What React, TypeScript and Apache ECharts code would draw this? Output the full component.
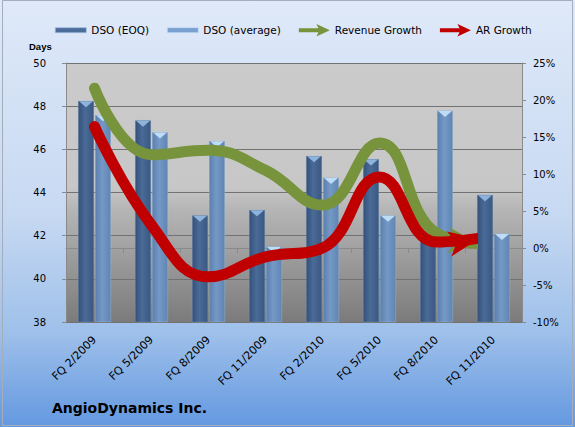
import React, { useEffect, useRef } from 'react';
import * as echarts from 'echarts';

// Fiscal quarters on the category axis
const quarters = ['FQ 2/2009', 'FQ 5/2009', 'FQ 8/2009', 'FQ 11/2009', 'FQ 2/2010', 'FQ 5/2010', 'FQ 8/2010', 'FQ 11/2010'];

// Days sales outstanding (left axis, days)
const dsoEoq = [48.25, 47.35, 42.95, 43.2, 45.7, 45.55, 42.2, 43.9];
const dsoAverage = [47.6, 46.8, 46.4, 41.5, 44.7, 42.95, 47.8, 42.1];

// Year-over-year growth (right axis, percent)
const revenueGrowth = [21.6, 12.6, 13.2, 10.5, 5.8, 14.2, 2.0, 0.5];
const arGrowth = [16.4, 3.1, -3.9, -1.2, 0.0, 9.6, 0.8, 1.6];

// Axis ranges
const daysRange = { min: 38, max: 50, step: 2 };
const pctRange = { min: -10, max: 25, step: 5 };

const FONT = "'DejaVu Sans', sans-serif";
const GREEN = '#77933c';
const RED = '#c00000';

const rectIcon = 'path://M0,0 H31 V5 H0 Z';
const arrowIcon = 'path://M0,4 L19,4 L17,0 L30,6 L17,12 L19,8 L0,8 Z';
const capShape = 'path://M0,0 L16,0 L8,6 Z';

// Line stroke fades out just before the arrowhead so the head covers the end
function strokeWithCut(color: string, cutX: number, width: number) {
  const t = cutX / width;
  return new echarts.graphic.LinearGradient(0, 0, width, 0, [
    { offset: 0, color },
    { offset: t, color },
    { offset: t + 0.0005, color: 'rgba(0,0,0,0)' },
    { offset: 1, color: 'rgba(0,0,0,0)' },
  ], true);
}

function withArrow(values: number[], angleDeg: number, len: number, wid: number) {
  const last = values.length - 1;
  const rad = (angleDeg * Math.PI) / 180;
  const tipX = (len / 2) * Math.cos(rad);
  const tipY = -(len / 2) * Math.sin(rad);
  return values.map((v, i) =>
    i === last
      ? {
          value: v,
          symbol: 'arrow',
          symbolSize: [wid, len],
          symbolRotate: angleDeg - 90,
          symbolOffset: [-tipX, -tipY],
        }
      : v
  );
}

export default function App() {
  const ref = useRef<HTMLDivElement>(null);

  useEffect(() => {
    if (!ref.current) return;
    const chart = echarts.init(ref.current, undefined, { renderer: 'svg' });
    const W = 575;

    const darkBar = new echarts.graphic.LinearGradient(0, 0, 1, 0, [
      { offset: 0, color: '#33507a' },
      { offset: 0.45, color: '#4a6b97' },
      { offset: 1, color: '#395781' },
    ]);
    const lightBar = new echarts.graphic.LinearGradient(0, 0, 1, 0, [
      { offset: 0, color: '#5b7fad' },
      { offset: 0.45, color: '#7499c7' },
      { offset: 1, color: '#6185b3' },
    ]);

    chart.setOption({
      animation: false,
      textStyle: { fontFamily: FONT },
      graphic: [
        {
          type: 'rect',
          z: 100,
          shape: { x: 2.5, y: 0.5, width: 570, height: 425 },
          style: { fill: 'none', stroke: '#a3adbb', lineWidth: 1 },
        },
        {
          type: 'text',
          left: 29,
          top: 41,
          style: { text: 'Days', font: "bold 9.5px 'Liberation Sans', sans-serif", fill: '#000' },
        },
        {
          type: 'text',
          left: 52,
          top: 401,
          style: { text: 'AngioDynamics Inc.', font: `bold 14px ${FONT}`, fill: '#000' },
        },
      ],
      legend: {
        left: 50,
        top: 19,
        itemWidth: 31,
        itemHeight: 14,
        itemGap: 18,
        textStyle: { fontFamily: FONT, fontSize: 10.5, color: '#000' },
        data: [
          { name: 'DSO (EOQ)', icon: rectIcon, itemStyle: { color: '#4c6d99', borderColor: '#9dbfe6', borderWidth: 0.6 } },
          { name: 'DSO (average)', icon: rectIcon, itemStyle: { color: '#7aa0cf', borderColor: '#c8e2fa', borderWidth: 0.6 } },
          { name: 'Revenue Growth', icon: arrowIcon, itemStyle: { color: GREEN } },
          { name: 'AR Growth', icon: arrowIcon, itemStyle: { color: RED } },
        ],
      },
      grid: {
        left: 66,
        top: 63,
        width: 456,
        height: 259,
        show: true,
        borderWidth: 0,
        backgroundColor: new echarts.graphic.LinearGradient(0, 0, 0, 1, [
          { offset: 0, color: '#cbcbcb' },
          { offset: 0.48, color: '#c7c7c7' },
          { offset: 0.56, color: '#b6b6b6' },
          { offset: 1, color: '#7b7b7b' },
        ]),
      },
      xAxis: {
        type: 'category',
        data: quarters,
        boundaryGap: true,
        axisLine: { show: true, lineStyle: { color: '#8a8a8a' } },
        axisTick: { show: true, length: 5, lineStyle: { color: '#8a8a8a' } },
        axisLabel: { rotate: 45, interval: 0, margin: 16, fontSize: 11, color: '#000', fontFamily: FONT },
      },
      yAxis: [
        {
          type: 'value',
          position: 'left',
          min: daysRange.min,
          max: daysRange.max,
          interval: daysRange.step,
          axisLine: { show: true, lineStyle: { color: '#8a8a8a' } },
          axisTick: { show: true, length: 4, lineStyle: { color: '#8a8a8a' } },
          axisLabel: { margin: 20, fontSize: 10, color: '#000', fontFamily: FONT },
          splitLine: { show: true, lineStyle: { color: '#727272', width: 1 } },
        },
        {
          type: 'value',
          position: 'right',
          min: pctRange.min,
          max: pctRange.max,
          interval: pctRange.step,
          axisLine: { show: true, lineStyle: { color: '#8a8a8a' } },
          axisTick: { show: true, length: 4, lineStyle: { color: '#8a8a8a' } },
          axisLabel: { margin: 11, fontSize: 10, color: '#000', fontFamily: FONT, formatter: '{value}%' },
          splitLine: { show: false },
        },
      ],
      series: [
        {
          name: 'DSO (EOQ)',
          type: 'bar',
          data: dsoEoq,
          barWidth: 16,
          barGap: '6%',
          itemStyle: { color: darkBar, borderColor: 'rgba(150,180,215,0.5)', borderWidth: 0.5 },
        },
        {
          name: 'DSO (average)',
          type: 'bar',
          data: dsoAverage,
          barWidth: 16,
          barGap: '6%',
          itemStyle: { color: lightBar, borderColor: 'rgba(190,215,240,0.5)', borderWidth: 0.5 },
        },
        // Bevelled tops of the bars
        {
          name: 'capEoq',
          type: 'scatter',
          z: 3,
          data: dsoEoq,
          symbol: capShape,
          symbolSize: [14, 6],
          symbolOffset: [-8.5, 3.5],
          itemStyle: { color: '#8fb4dc', opacity: 1 },
          silent: true,
        },
        {
          name: 'capAverage',
          type: 'scatter',
          z: 3,
          data: dsoAverage,
          symbol: capShape,
          symbolSize: [14, 6],
          symbolOffset: [8.5, 3.5],
          itemStyle: { color: '#bddcf6', opacity: 1 },
          silent: true,
        },
        {
          name: 'Revenue Growth',
          type: 'line',
          z: 4,
          yAxisIndex: 1,
          smooth: 0.45,
          symbol: 'none',
          showSymbol: true,
          data: withArrow(revenueGrowth, -5, 30, 19),
          itemStyle: { color: GREEN },
          lineStyle: { width: 11, cap: 'round', color: strokeWithCut(GREEN, 478, W) },
        },
        {
          name: 'AR Growth',
          type: 'line',
          z: 5,
          yAxisIndex: 1,
          smooth: 0.45,
          symbol: 'none',
          showSymbol: true,
          data: withArrow(arGrowth, 10, 30, 19),
          itemStyle: { color: RED },
          lineStyle: { width: 11, cap: 'round', color: strokeWithCut(RED, 478, W) },
        },
      ],
    });

    return () => chart.dispose();
  }, []);

  return (
    <div
      ref={ref}
      style={{
        position: 'fixed',
        left: 0,
        top: 0,
        width: 575,
        height: 427,
        background: 'linear-gradient(to bottom, #dfe9f9 0%, #c7d9f2 50%, #9ec0ea 78%, #6498e0 100%)',
      }}
    />
  );
}
